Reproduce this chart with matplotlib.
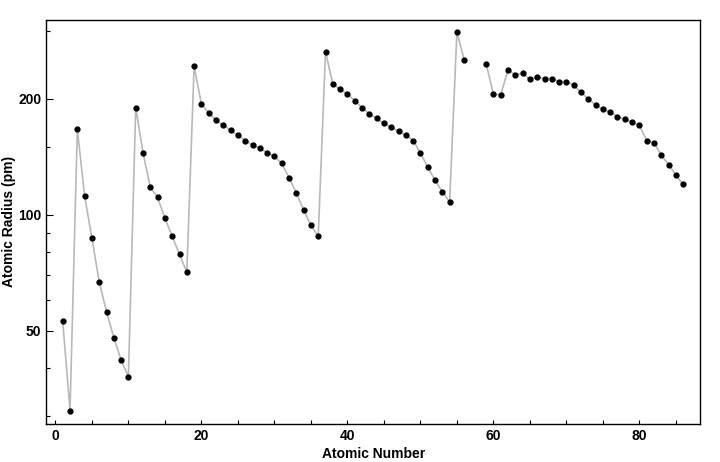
import numpy as np
import matplotlib.pyplot as plt
from matplotlib.ticker import FixedLocator, NullFormatter

# Atomic radius (pm); La (57) and Ce (58) are missing
atomic_number = list(range(1, 57)) + list(range(59, 87))
radius_pm = [
    53, 31, 167, 112, 87, 67, 56, 48, 42, 38,
    190, 145, 118, 111, 98, 88, 79, 71,
    243, 194, 184, 176, 171, 166, 161, 156, 152, 149, 145, 142,
    136, 125, 114, 103, 94, 88,
    265, 219, 212, 206, 198, 190, 183, 178, 173, 169, 165, 161,
    156, 145, 133, 123, 115, 108,
    298, 253,
    247, 206, 205, 238, 231, 233, 225, 228, 226, 226, 222, 222,
    217, 208, 200, 193, 188, 185, 180, 177, 174, 171,
    156, 154, 143, 135, 127, 120,
]
x_major = [0, 20, 40, 60, 80]
y_major = [50, 100, 200]
y_minor = [30, 40, 60, 70, 80, 90, 150, 300]

plt.rcParams['font.family'] = ['Liberation Sans', 'DejaVu Sans']

fig = plt.figure(figsize=(7.2, 4.62), dpi=100)
ax = fig.add_axes([0.0643, 0.083, 0.9079, 0.874])

# line broken at the missing elements
z = np.array(atomic_number, dtype=float)
r = np.array(radius_pm, dtype=float)
gap = np.where(np.diff(z) > 1)[0] + 1
z_line = np.insert(z, gap, np.nan)
r_line = np.insert(r, gap, np.nan)
ax.plot(z_line, r_line, color='#b8b8b8', lw=1.2, zorder=1)
ax.plot(z, r, 'o', color='black', ms=3.5, zorder=2)

ax.set_yscale('log')
ax.set_xlim(-1.25, 88.3)
ax.set_ylim(28.7, 321)

ax.xaxis.set_major_locator(FixedLocator(x_major))
ax.xaxis.set_minor_locator(FixedLocator(np.arange(0, 90, 5)))
ax.yaxis.set_major_locator(FixedLocator(y_major))
ax.yaxis.set_minor_locator(FixedLocator(y_minor))
ax.yaxis.set_major_formatter(plt.FuncFormatter(lambda v, p: '%d' % v))
ax.yaxis.set_minor_formatter(NullFormatter())

ax.tick_params(which='both', direction='in', top=False, right=False,
               labelsize=10, width=0.8)
ax.tick_params(axis='x', which='both', length=2.6)
ax.tick_params(axis='y', which='major', length=5)
ax.tick_params(axis='y', which='minor', length=2.7)
for lab in ax.get_xticklabels() + ax.get_yticklabels():
    lab.set_fontweight('bold')
for sp in ax.spines.values():
    sp.set_linewidth(1.0)

ax.set_xlabel('Atomic Number', fontsize=10, fontweight='bold', labelpad=3)
ax.set_ylabel('Atomic Radius (pm)', fontsize=10, fontweight='bold')
ax.yaxis.set_label_coords(-0.046, 0.5)

fig.savefig('out.png', dpi=100)
